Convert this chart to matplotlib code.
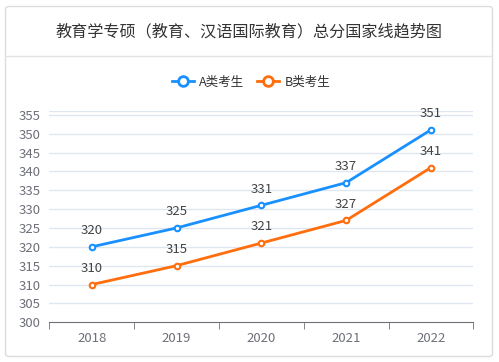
import matplotlib.pyplot as plt
import numpy as np
from matplotlib.patches import FancyBboxPatch
from matplotlib.lines import Line2D

plt.rcParams['font.family'] = ['Noto Sans CJK SC', 'DejaVu Sans']

years = ['2018', '2019', '2020', '2021', '2022']
a_scores = [320, 325, 331, 337, 351]
b_scores = [310, 315, 321, 327, 341]
series_names = ['A类考生', 'B类考生']
title = '教育学专硕（教育、汉语国际教育）总分国家线趋势图'

blue = '#1890ff'
orange = '#ff6d0d'
gray = '#6e7079'

W, H = 499, 362
fig = plt.figure(figsize=(W / 100, H / 100), dpi=100)

# card frame
card = FancyBboxPatch((5.5 / W, 5.5 / H), 487 / W, 350 / H,
                      boxstyle='round,pad=0,rounding_size=0.008',
                      transform=fig.transFigure, facecolor='white',
                      edgecolor='#dcdcdc', linewidth=1, zorder=-5)
fig.patches.append(card)
fig.add_artist(Line2D([6 / W, 492 / W], [1 - 56 / H, 1 - 56 / H],
                      transform=fig.transFigure, color='#e3e3e3', lw=1))

fig.text(249 / W, 1 - 32 / H, title, ha='center', va='center',
         fontsize=11.6, color='#333333')

ax = fig.add_axes([49.3 / W, 39.7 / H, 424 / W, 211.3 / H])
ax.set_zorder(5)
ax.patch.set_alpha(0)
x = np.arange(len(years))

for vals, c, name in [(a_scores, blue, series_names[0]), (b_scores, orange, series_names[1])]:
    ax.plot(x, vals, color=c, lw=2, marker='o', ms=4, mfc='white',
            mec=c, mew=1.5, label=name, zorder=3)
    for xi, v in zip(x, vals):
        ax.annotate(str(v), (xi, v), xytext=(0, 7), textcoords='offset points',
                    ha='center', va='bottom', fontsize=9.5, color='#444444')

ax.set_xlim(-0.5, len(years) - 0.5)
ax.set_ylim(300, 356)
ax.set_yticks(np.arange(300, 356, 5))
ax.set_xticks(x)
ax.set_xticklabels(years)
ax.set_xticks(np.arange(-0.5, len(years), 1), minor=True)
ax.tick_params(axis='x', which='major', length=0, pad=7, labelsize=9.5, labelcolor=gray)
ax.tick_params(axis='x', which='minor', length=5, color=gray, direction='out')
ax.tick_params(axis='y', length=0, pad=6, labelsize=9.5, labelcolor=gray)

for yv in list(np.arange(305, 356, 5)) + [356]:
    ax.axhline(yv, color='#e0e6f1', lw=1, zorder=1)
for s in ['top', 'right', 'left']:
    ax.spines[s].set_visible(False)
ax.spines['bottom'].set_color(gray)

handles = [Line2D([], [], color=c, lw=2, marker='o', ms=7, mfc='white', mec=c, mew=2)
           for c in (blue, orange)]
fig.legend(handles, series_names, loc='center', bbox_to_anchor=(251 / W, 1 - 82 / H),
           ncol=2, frameon=False, fontsize=9, handlelength=1.8,
           columnspacing=1.0, handletextpad=0.4, labelcolor='#333333')

fig.savefig('out.png', dpi=100)
